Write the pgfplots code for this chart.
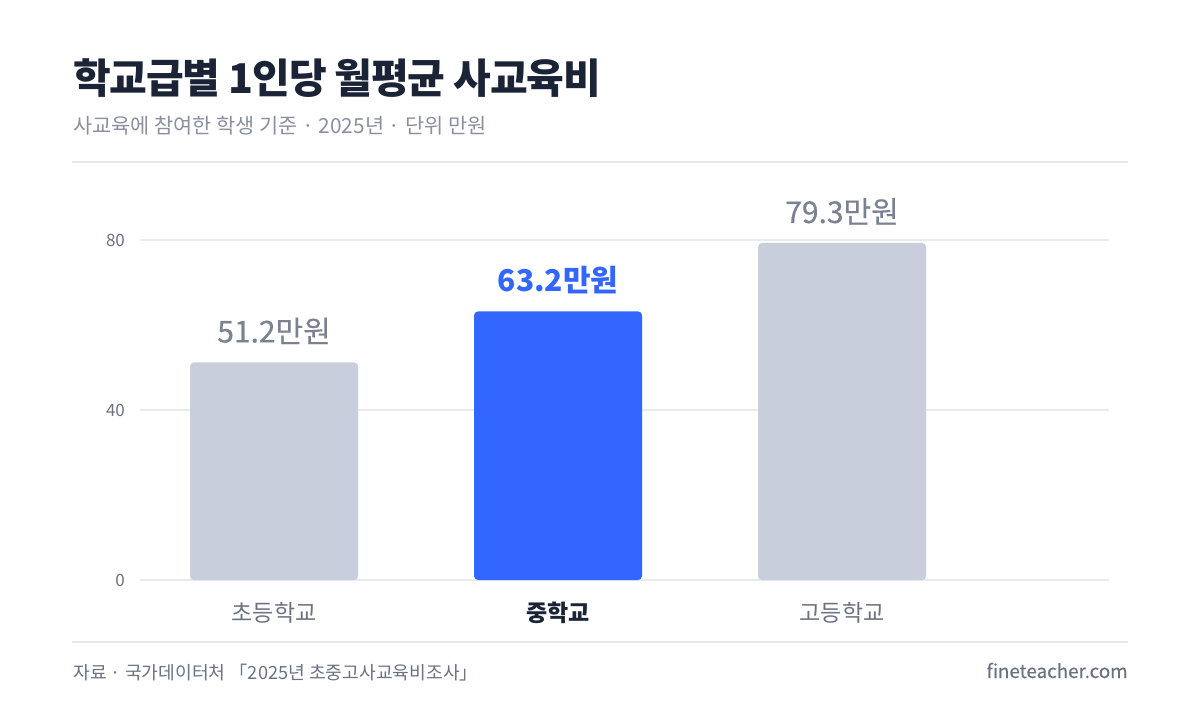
\documentclass[border=0pt]{standalone}
\usepackage{pgfplots}
\pgfplotsset{compat=1.18}
\usepackage{fontspec}
\setmainfont{Noto Sans CJK KR}
\newfontfamily\titlefont[LetterSpace=-3]{Noto Sans CJK KR}
\newfontfamily\medfont[FakeBold=0.4]{Noto Sans CJK KR}

\definecolor{navy}{HTML}{1B2437}
\definecolor{subgray}{HTML}{8A90A0}
\definecolor{ticklab}{HTML}{6B7280}
\definecolor{valgray}{HTML}{7A8191}
\definecolor{catgray}{HTML}{6B7280}
\definecolor{rulec}{HTML}{E3E6EB}
\definecolor{gridc}{HTML}{E8EAEF}
\definecolor{bargray}{HTML}{C8CEDB}
\definecolor{barblue}{HTML}{3366FF}

\begin{document}
\begin{tikzpicture}
% canvas 1200x720 px, 1px = 0.5pt
\fill[white] (0,0) rectangle (600pt,-360pt);
\useasboundingbox (0,0) rectangle (600pt,-360pt);

\node[anchor=base west, inner sep=0, text=navy, font=\titlefont\bfseries\fontsize{20.5}{20.5}\selectfont]
  at (36.5pt,-46.5pt) {학교급별 1인당 월평균 사교육비};
\node[anchor=base west, inner sep=0, text=subgray, font=\fontsize{10.4}{10.4}\selectfont]
  at (36.5pt,-66.5pt) {사교육에 참여한 학생 기준 · 2025년 · 단위 만원};
\draw[rulec, line width=1pt] (36pt,-81pt) -- (564pt,-81pt);

\begin{axis}[
    at={(70pt,-290pt)}, anchor=south west,
    scale only axis,
    width=484.5pt, height=212.5pt,
    xmin=-0.472, xmax=2.94,
    ymin=0, ymax=100,
    clip=false,
    axis line style={draw=none},
    major tick length=0pt,
    ytick={0,40,80},
    ymajorgrids,
    grid style={gridc, line width=1pt},
    xtick={0,1,2},
    xticklabels={{\color{catgray}초등학교},{\bfseries\color{navy}중학교},{\color{catgray}고등학교}},
    xticklabel style={anchor=base, yshift=-20.5pt, font=\fontsize{11.5}{11.5}\selectfont},
    yticklabel style={anchor=east, xshift=-4pt, text=ticklab, font=\fontsize{8.5}{8.5}\selectfont},
    /pgf/number format/assume math mode=true,
]
\addplot[ybar, bar width=84pt, bar shift=0pt, fill=bargray, draw=none, rounded corners=2pt,
    nodes near coords={\pgfmathprintnumber[fixed,precision=1,fixed zerofill]{\pgfplotspointmeta}만원},
    nodes near coords style={anchor=base, yshift=10pt, text=valgray, font=\medfont\fontsize{15}{15}\selectfont}]
    coordinates {(0,51.2) (2,79.3)};
\addplot[ybar, bar width=84pt, bar shift=0pt, fill=barblue, draw=none, rounded corners=2pt,
    nodes near coords={\pgfmathprintnumber[fixed,precision=1,fixed zerofill]{\pgfplotspointmeta}만원},
    nodes near coords style={anchor=base, yshift=10pt, text=barblue, font=\bfseries\fontsize{15}{15}\selectfont}]
    coordinates {(1,63.2)};
\end{axis}

\draw[rulec, line width=1pt] (36pt,-321pt) -- (564pt,-321pt);
\node[anchor=base west, inner sep=0, text=catgray, font=\fontsize{9.1}{9.1}\selectfont]
  at (36.5pt,-339.5pt) {자료 · 국가데이터처 「2025년 초중고사교육비조사」};
\node[anchor=base east, inner sep=0, text=catgray, font=\medfont\fontsize{9.4}{9.4}\selectfont]
  at (564pt,-339pt) {fineteacher.com};
\end{tikzpicture}
\end{document}
